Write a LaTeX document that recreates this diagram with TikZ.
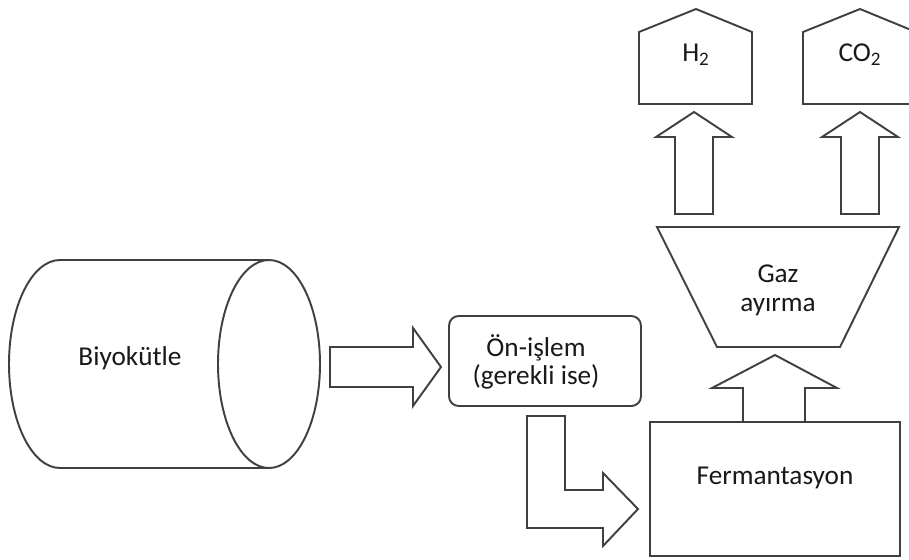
\documentclass[tikz,border=0pt]{standalone}
\usepackage{fontspec}
\setmainfont{Carlito}
\usepackage{tikz}
\usetikzlibrary{calc}

\begin{document}
\begin{tikzpicture}[x=0.02cm,y=-0.02cm,line join=miter]

\tikzset{
  outline/.style={draw=black!75,line width=1.1pt,fill=white},
  lbl/.style={font=\fontsize{15.5}{17.5}\selectfont,text=black!90,align=center,inner sep=0pt}
}

% Page size, same proportions as the sketch (909 x 559)
\useasboundingbox (0,0) rectangle (909,559);
\clip (0,0) rectangle (909,559);

%Define drum parameters
\def\drx{51}     %half-width of the drum ends.
\def\dry{104}    %half-height of the drum.

% Define coordinates
\coordinate (drumL) at (60,364);
\coordinate (drumR) at (269,364);

% Biomass drum
\draw[outline] (60,260) -- (269,260) -- (269,468) -- (60,468)
      arc[start angle=90, end angle=270, x radius=\drx, y radius=\dry] -- cycle;
\draw[outline] (drumR) ellipse [x radius=\drx, y radius=\dry];
\node[lbl] (biomass) at (130,358) {Biyokütle};

% Block arrow drum -> pre-treatment
\draw[outline] (330,347) -- (413,347) -- (413,328) -- (441,367) -- (413,406)
      -- (413,387) -- (330,387) -- cycle;

% Pre-treatment box
\node[outline,rounded corners=5.5pt,minimum width=3.84cm,minimum height=1.8cm] (pre) at (545,361) {};
\node[lbl] (pretext) at (536,362) {Ön-işlem\\[-1.5pt](gerekli ise)};

% Bent arrow pre-treatment -> fermentation
\draw[outline] (527,416) -- (565,416) -- (565,490) -- (603,490) -- (603,473)
      -- (638,509) -- (603,546) -- (603,528) -- (527,528) -- cycle;

% Fermentation box and arrow up to the separator
\draw[outline] (743,422) -- (743,388) -- (712,388) -- (775,355) -- (837,388)
      -- (805,388) -- (805,422) -- cycle;
\node[outline,minimum width=5cm,minimum height=2.68cm] (ferm) at (775,489) {};
\node[lbl] (fermtext) at (775,478) {Fermantasyon};

% Gas separator
\draw[outline] (657,227) -- (899,227) -- (840,347) -- (717,347) -- cycle;
\node[lbl] (sep) at (778,290) {Gaz\\[-1pt]ayırma};

% Arrows up to the gas stores
\foreach \cx in {694,860}
  \draw[outline] ({\cx-19},214) -- ({\cx-19},137) -- ({\cx-38},137) -- (\cx,112)
        -- ({\cx+38},137) -- ({\cx+19},137) -- ({\cx+19},214) -- cycle;

% Gas stores
\foreach \cx/\gas/\nm in {696/H\textsubscript{2}/htwo,860/CO\textsubscript{2}/cotwo}{
  \draw[outline] ({\cx-57},104) -- ({\cx-57},32) -- (\cx,9) -- ({\cx+56},32)
        -- ({\cx+56},104) -- cycle;
  \node[lbl] (\nm) at (\cx,55) {\gas};
}

\end{tikzpicture}
\end{document}
